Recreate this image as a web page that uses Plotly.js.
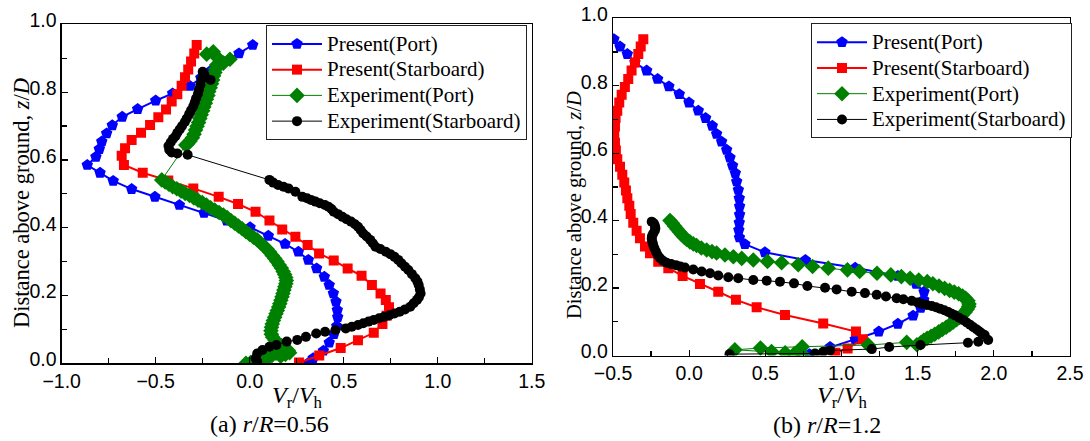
<!DOCTYPE html>
<html>
<head>
<meta charset="utf-8">
<script src="https://cdn.plot.ly/plotly-3.0.1.min.js"></script>
<style>html,body{margin:0;padding:0;background:#fff;}#chart{width:1090px;height:441px;}</style>
</head>
<body>
<div id="chart"></div>
<script>
// ---------- DATA: panel (a) r/R = 0.56 ----------
const seriesNames = ["Present(Port)", "Present(Starboard)", "Experiment(Port)", "Experiment(Starboard)"];

const aPresentPortX = [0.016,-0.057,-0.140,-0.202,-0.260,-0.318,-0.410,-0.500,-0.596,-0.678,-0.731,-0.761,-0.787,-0.800,-0.818,-0.864,-0.796,-0.726,-0.628,-0.504,-0.374,-0.243,-0.122,0.002,0.099,0.188,0.259,0.312,0.356,0.397,0.423,0.445,0.459,0.466,0.468,0.463,0.448,0.423,0.392,0.338,0.310];
const aPresentPortZ = [0.939,0.914,0.890,0.865,0.842,0.818,0.796,0.775,0.750,0.727,0.702,0.678,0.654,0.632,0.609,0.585,0.562,0.538,0.514,0.491,0.467,0.444,0.421,0.401,0.376,0.352,0.329,0.305,0.280,0.255,0.231,0.206,0.182,0.157,0.136,0.110,0.086,0.061,0.037,0.015,0.000];

const aPresentStbdX = [-0.282,-0.295,-0.312,-0.327,-0.344,-0.362,-0.385,-0.415,-0.445,-0.486,-0.530,-0.578,-0.628,-0.663,-0.681,-0.669,-0.569,-0.433,-0.300,-0.165,-0.062,0.031,0.105,0.173,0.243,0.308,0.369,0.447,0.521,0.595,0.650,0.696,0.724,0.741,0.728,0.706,0.660,0.576,0.484,0.370,0.262];
const aPresentStbdZ = [0.939,0.914,0.890,0.867,0.844,0.819,0.794,0.772,0.749,0.726,0.703,0.680,0.659,0.634,0.612,0.585,0.562,0.539,0.516,0.491,0.470,0.447,0.421,0.395,0.373,0.349,0.324,0.303,0.280,0.258,0.231,0.206,0.187,0.165,0.140,0.116,0.090,0.068,0.045,0.023,0.002];

const aExpPortX = [-0.229,-0.194,-0.176,-0.105,-0.140,-0.176,-0.180,-0.185,-0.192,-0.197,-0.203,-0.210,-0.218,-0.222,-0.230,-0.236,-0.244,-0.250,-0.258,-0.265,-0.272,-0.280,-0.288,-0.296,-0.305,-0.318,-0.330,-0.340,
  -0.468,-0.450,-0.430,-0.410,-0.388,-0.365,-0.343,-0.320,-0.297,-0.275,-0.252,-0.230,-0.208,-0.186,-0.163,-0.140,-0.120,-0.100,-0.080,-0.060,-0.040,-0.020,0.000,0.020,0.040,0.058,0.075,0.092,0.106,0.120,0.133,0.145,0.157,0.168,0.178,0.186,0.192,0.195,0.192,0.187,0.182,0.177,0.172,0.166,0.160,0.154,0.147,0.140,0.133,0.126,0.120,0.116,0.113,0.115,0.122,0.135,0.150,0.168,0.188,0.205,0.212,0.190,0.165,0.140,0.120,0.100,0.080,0.055,0.030,0.005,-0.020];
const aExpPortZ = [0.912,0.919,0.904,0.897,0.885,0.880,0.869,0.858,0.848,0.836,0.825,0.813,0.802,0.790,0.779,0.767,0.756,0.745,0.733,0.722,0.710,0.699,0.688,0.676,0.665,0.655,0.648,0.644,
  0.541,0.535,0.528,0.521,0.515,0.508,0.501,0.495,0.488,0.481,0.474,0.467,0.459,0.452,0.445,0.437,0.430,0.421,0.413,0.405,0.397,0.388,0.380,0.372,0.364,0.355,0.346,0.337,0.328,0.318,0.309,0.300,0.290,0.281,0.271,0.262,0.253,0.244,0.235,0.226,0.216,0.206,0.196,0.186,0.176,0.166,0.156,0.146,0.136,0.126,0.116,0.106,0.096,0.086,0.077,0.068,0.060,0.052,0.045,0.038,0.031,0.026,0.021,0.030,0.024,0.016,0.011,0.007,0.004,0.002,0.000];

const aExpStbdX = [-0.250,-0.240,-0.208,-0.255,-0.262,-0.270,-0.275,-0.285,-0.292,-0.300,-0.312,-0.322,-0.335,-0.345,-0.360,-0.372,-0.385,-0.395,-0.408,-0.420,-0.432,-0.428,-0.415,-0.385,-0.330,
  0.105,0.125,0.151,0.180,0.206,0.243,0.280,0.305,0.326,0.350,0.373,0.400,0.419,0.435,0.447,0.470,0.493,0.515,0.539,0.560,0.576,0.590,0.604,0.622,0.641,0.655,0.669,0.695,0.724,0.748,0.770,0.790,0.807,0.826,0.844,0.863,0.881,0.892,0.899,0.905,0.909,0.900,0.890,0.872,0.854,0.826,0.798,0.770,0.743,0.715,0.688,0.660,0.632,0.604,0.576,0.543,0.511,0.456,0.401,0.354,0.299,0.253,0.197,0.142,0.105,0.068,0.040,0.031,0.040];
const aExpStbdZ = [0.860,0.850,0.836,0.838,0.822,0.808,0.795,0.782,0.770,0.758,0.746,0.735,0.722,0.712,0.700,0.690,0.680,0.670,0.662,0.652,0.641,0.630,0.622,0.619,0.615,
  0.541,0.533,0.526,0.521,0.516,0.506,0.491,0.487,0.482,0.477,0.472,0.467,0.462,0.455,0.447,0.440,0.432,0.425,0.418,0.410,0.403,0.393,0.383,0.374,0.364,0.354,0.344,0.337,0.329,0.322,0.314,0.305,0.295,0.285,0.275,0.263,0.251,0.241,0.231,0.218,0.206,0.195,0.187,0.177,0.167,0.159,0.152,0.147,0.142,0.137,0.133,0.128,0.123,0.118,0.113,0.108,0.103,0.098,0.093,0.088,0.078,0.069,0.064,0.054,0.049,0.039,0.029,0.015,0.005];

// ---------- DATA: panel (b) r/R = 1.2 ----------
const bPresentPortX = [-0.494,-0.454,-0.406,-0.356,-0.279,-0.207,-0.133,-0.065,-0.001,0.060,0.108,0.152,0.180,0.213,0.246,0.268,0.285,0.303,0.312,0.323,0.329,0.331,0.331,0.329,0.326,0.330,0.366,0.497,0.763,1.090,1.370,1.490,1.542,1.540,1.520,1.470,1.370,1.245,1.090,0.925,0.790];
const bPresentPortZ = [0.938,0.916,0.894,0.869,0.845,0.820,0.798,0.775,0.750,0.726,0.704,0.681,0.657,0.634,0.610,0.587,0.563,0.541,0.516,0.491,0.466,0.442,0.418,0.394,0.372,0.350,0.330,0.306,0.283,0.260,0.236,0.212,0.189,0.165,0.141,0.118,0.094,0.071,0.048,0.025,0.004];

const bPresentStbdX = [-0.301,-0.318,-0.334,-0.356,-0.378,-0.400,-0.422,-0.443,-0.459,-0.472,-0.483,-0.487,-0.492,-0.487,-0.481,-0.472,-0.454,-0.439,-0.426,-0.415,-0.406,-0.393,-0.384,-0.367,-0.345,-0.323,-0.290,-0.257,-0.203,-0.137,-0.043,0.071,0.191,0.307,0.443,0.629,0.880,1.095,1.141,1.040,0.960];
const bPresentStbdZ = [0.938,0.916,0.894,0.869,0.845,0.820,0.796,0.773,0.750,0.726,0.704,0.679,0.656,0.631,0.608,0.582,0.560,0.536,0.513,0.489,0.466,0.444,0.420,0.394,0.370,0.348,0.323,0.303,0.278,0.259,0.236,0.212,0.189,0.165,0.143,0.120,0.095,0.071,0.048,0.021,0.008];

const bExpPortX = [-0.126,-0.110,-0.095,-0.080,-0.065,-0.050,-0.033,-0.016,0.005,0.027,0.049,0.080,0.115,0.150,0.180,0.235,0.290,0.345,0.421,0.514,0.607,0.716,0.810,0.913,1.039,1.119,1.233,1.324,1.393,1.450,1.507,1.563,1.600,1.640,1.677,1.710,1.740,1.769,1.795,1.815,1.830,1.837,1.835,1.825,1.812,1.795,1.775,1.755,1.733,1.710,1.687,1.662,1.638,1.612,1.588,1.562,1.540,1.520,1.495,1.428,1.176,0.742,0.468,0.300,0.541,0.630,0.690,0.745];
const bExpPortZ = [0.400,0.392,0.383,0.375,0.367,0.359,0.351,0.344,0.337,0.331,0.326,0.319,0.313,0.308,0.304,0.298,0.293,0.288,0.283,0.279,0.275,0.269,0.264,0.259,0.254,0.249,0.244,0.239,0.234,0.229,0.224,0.219,0.213,0.206,0.199,0.193,0.188,0.183,0.176,0.170,0.162,0.153,0.145,0.137,0.129,0.121,0.113,0.106,0.099,0.091,0.084,0.077,0.070,0.063,0.057,0.051,0.045,0.038,0.032,0.039,0.031,0.026,0.022,0.017,0.012,0.008,0.005,0.003];

const bExpStbdX = [-0.246,-0.232,-0.225,-0.222,-0.226,-0.236,-0.244,-0.246,-0.242,-0.236,-0.228,-0.218,-0.207,-0.192,-0.172,-0.148,-0.118,-0.087,-0.058,-0.028,0.027,0.082,0.137,0.191,0.257,0.322,0.421,0.509,0.596,0.688,0.776,0.892,0.968,1.067,1.154,1.231,1.292,1.362,1.406,1.461,1.500,1.527,1.560,1.592,1.620,1.647,1.675,1.701,1.723,1.745,1.772,1.800,1.822,1.844,1.866,1.888,1.905,1.920,1.940,1.963,1.898,1.830,1.518,1.313,1.199,0.925,0.880,0.826,0.265];
const bExpStbdZ = [0.397,0.392,0.385,0.377,0.370,0.362,0.354,0.346,0.337,0.328,0.318,0.308,0.298,0.289,0.281,0.275,0.271,0.268,0.264,0.261,0.255,0.249,0.244,0.237,0.232,0.229,0.224,0.222,0.219,0.214,0.206,0.201,0.196,0.189,0.185,0.180,0.175,0.170,0.167,0.162,0.157,0.153,0.150,0.147,0.143,0.139,0.134,0.129,0.124,0.119,0.112,0.105,0.098,0.091,0.084,0.077,0.071,0.066,0.061,0.046,0.041,0.038,0.031,0.025,0.019,0.015,0.011,0.006,0.004];

const xTickFormat = ".1f";
const panelCaptions = ["(a) <i>r</i>/<i>R</i>=0.56", "(b) <i>r</i>/<i>R</i>=1.2"];
const xTitleText = "<i>V</i><sub>r</sub>/<i>V</i><sub>h</sub>";
const yTitleText = "Distance above ground, <i>z</i>/<i>D</i>";

// ---------- STYLES ----------
const W = 1090, H = 441;
const styles = [
  {color: "#0000ff", symbol: "pentagon", size: 12, lw: 2},
  {color: "#ff0000", symbol: "square", size: 10, lw: 2},
  {color: "#008000", symbol: "diamond", size: 12, lw: 1},
  {color: "#000000", symbol: "circle", size: 10, lw: 1}
];
function tr(x, z, i, xa, ya, leg) {
  const s = styles[i];
  return {x: x, y: z, type: "scatter", mode: "lines+markers",
    name: '<span style="font-size:21px">' + seriesNames[i] + '</span>',
    xaxis: xa, yaxis: ya, legend: leg, cliponaxis: true,
    line: {color: s.color, width: s.lw},
    marker: {color: s.color, symbol: s.symbol, size: s.size, line: {width: 0}}};
}
const data = [
  tr(aPresentPortX, aPresentPortZ, 0, "x", "y", "legend"),
  tr(aPresentStbdX, aPresentStbdZ, 1, "x", "y", "legend"),
  tr(aExpPortX, aExpPortZ, 2, "x", "y", "legend"),
  tr(aExpStbdX, aExpStbdZ, 3, "x", "y", "legend"),
  tr(bPresentPortX, bPresentPortZ, 0, "x2", "y2", "legend2"),
  tr(bPresentStbdX, bPresentStbdZ, 1, "x2", "y2", "legend2"),
  tr(bExpPortX, bExpPortZ, 2, "x2", "y2", "legend2"),
  tr(bExpStbdX, bExpStbdZ, 3, "x2", "y2", "legend2")
];

const xTickFont = {family: "Liberation Sans, Arial, sans-serif", size: 19.5, color: "#000"};
const yTickFont = {family: "Liberation Sans, Arial, sans-serif", size: 19.5, color: "#000"};
function xax(dom, range, anchor) {
  return {domain: dom, range: range, anchor: anchor, tick0: 0, dtick: 0.5, tickformat: xTickFormat,
    ticks: "inside", ticklen: 6, tickwidth: 1.2, tickcolor: "#000",
    minor: {dtick: 0.25, ticks: "inside", ticklen: 5, tickwidth: 1.2, tickcolor: "#000", showgrid: false},
    showline: true, linecolor: "#000", linewidth: 1.3, mirror: true,
    showgrid: false, zeroline: false, tickfont: xTickFont, fixedrange: true};
}
function yax(dom, anchor) {
  return {domain: dom, range: [0, 1], anchor: anchor, tick0: 0, dtick: 0.2, tickformat: ".1f",
    ticks: "inside", ticklen: 6, tickwidth: 1.2, tickcolor: "#000", ticklabelshift: -4,
    minor: {dtick: 0.1, ticks: "inside", ticklen: 5, tickwidth: 1.2, tickcolor: "#000", showgrid: false},
    showline: true, linecolor: "#000", linewidth: 1.3, mirror: true,
    showgrid: false, zeroline: false, tickfont: yTickFont, fixedrange: true};
}
const legFont = {family: "Liberation Serif, Times New Roman, serif", size: 17.5, color: "#000"};
function leg(xp, yp) {
  return {x: xp / W, y: 1 - yp / H, xanchor: "left", yanchor: "top", bgcolor: "#fff",
    bordercolor: "#222", borderwidth: 1, font: legFont, itemwidth: 50, tracegroupgap: 0};
}
const serif = "Liberation Serif, Times New Roman, serif";
function ann(text, xp, yp, size, angle) {
  return {text: text, x: xp / W, y: 1 - yp / H, xref: "paper", yref: "paper", showarrow: false,
    xanchor: "center", yanchor: "middle", textangle: angle || 0,
    font: {family: serif, size: size, color: "#000"}};
}

const layout = {
  width: W, height: H, margin: {l: 0, r: 0, t: 0, b: 0},
  paper_bgcolor: "#fff", plot_bgcolor: "#fff", showlegend: true,
  xaxis: xax([61.7 / W, 531.7 / W], [-1, 1.5], "y"),
  yaxis: yax([1 - 363.3 / H, 1 - 24.3 / H], "x"),
  xaxis2: xax([613 / W, 1070 / W], [-0.5, 2.5], "y2"),
  yaxis2: yax([1 - 355.5 / H, 1 - 18.3 / H], "x2"),
  legend: leg(266, 25),
  legend2: leg(811, 23.3),
  annotations: [
    ann(yTitleText, 22, 203, 22.5, -90),
    ann(yTitleText, 574, 205, 20.5, -90),
    ann(xTitleText, 297, 397, 24),
    ann(xTitleText, 842, 397, 24),
    ann(panelCaptions[0], 269.5, 424, 24),
    ann(panelCaptions[1], 827.5, 425, 24)
  ]
};

Plotly.newPlot("chart", data, layout, {displayModeBar: false, staticPlot: true});
</script>
</body>
</html>
